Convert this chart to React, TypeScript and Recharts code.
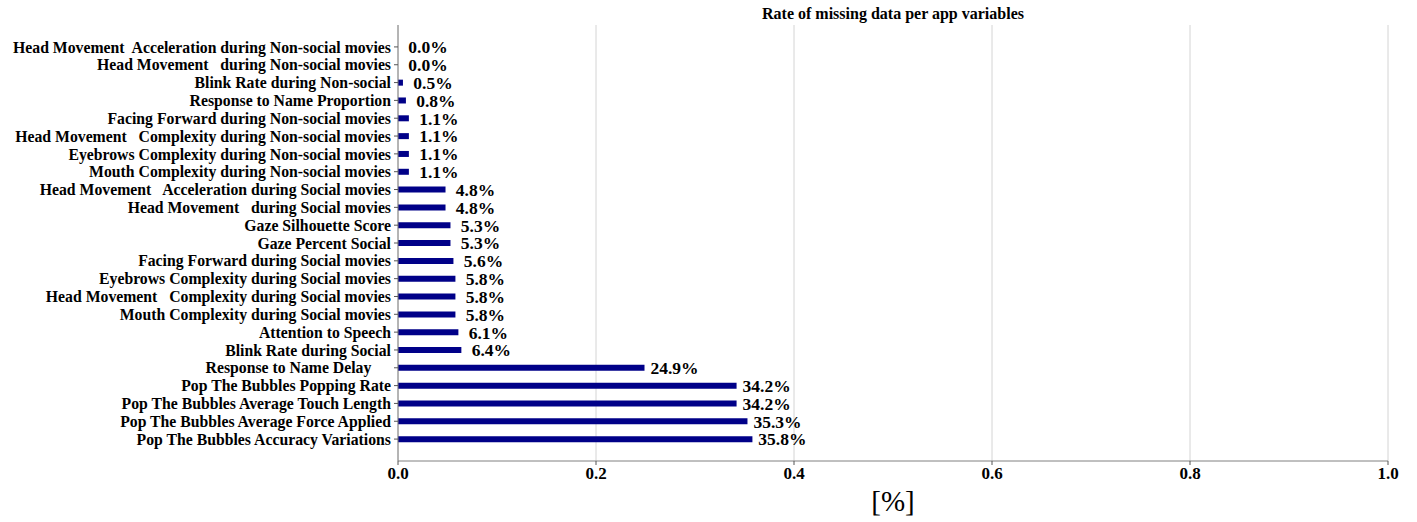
import React from "react";
import {
  BarChart,
  Bar,
  XAxis,
  YAxis,
  CartesianGrid,
  LabelList,
} from "recharts";

const categories: string[] = [
  "Head Movement  Acceleration during Non-social movies",
  "Head Movement   during Non-social movies",
  "Blink Rate during Non-social",
  "Response to Name Proportion",
  "Facing Forward during Non-social movies",
  "Head Movement   Complexity during Non-social movies",
  "Eyebrows Complexity during Non-social movies",
  "Mouth Complexity during Non-social movies",
  "Head Movement   Acceleration during Social movies",
  "Head Movement   during Social movies",
  "Gaze Silhouette Score",
  "Gaze Percent Social",
  "Facing Forward during Social movies",
  "Eyebrows Complexity during Social movies",
  "Head Movement   Complexity during Social movies",
  "Mouth Complexity during Social movies",
  "Attention to Speech",
  "Blink Rate during Social",
  "Response to Name Delay     ",
  "Pop The Bubbles Popping Rate",
  "Pop The Bubbles Average Touch Length",
  "Pop The Bubbles Average Force Applied",
  "Pop The Bubbles Accuracy Variations",
];

const missingRate: number[] = [
  0.0, 0.0, 0.005, 0.008, 0.011, 0.011, 0.011, 0.011, 0.048, 0.048, 0.053,
  0.053, 0.056, 0.058, 0.058, 0.058, 0.061, 0.064, 0.249, 0.342, 0.342, 0.353,
  0.358,
];

const xTicks: number[] = [0, 0.2, 0.4, 0.6, 0.8, 1.0];

const titleText = "Rate of missing data per app variables";
const xLabelText = "[%]";

const data = categories.map((name, i) => ({ name, value: missingRate[i] }));

const FONT = '"Liberation Serif", "Times New Roman", serif';

const YTick = (props: any) => {
  const { x, y, payload } = props;
  return (
    <text
      x={x}
      y={y}
      dy="0.36em"
      textAnchor="end"
      fontFamily={FONT}
      fontWeight="bold"
      fontSize={15.75}
      fill="#000"
      style={{ whiteSpace: "pre" }}
    >
      {payload.value}
    </text>
  );
};

const ValueLabel = (props: any) => {
  const { x, y, width, height, value } = props;
  const v = Number(value);
  const w = v === 0 ? 0 : Number(width);
  return (
    <text
      x={Number(x) + w + 30}
      y={Number(y) + Number(height) / 2}
      dy="0.36em"
      textAnchor="middle"
      fontFamily={FONT}
      fontWeight="bold"
      fontSize={17.5}
      fill="#000"
    >
      {(v * 100).toFixed(1) + "%"}
    </text>
  );
};

export default function App() {
  return (
    <div style={{ position: "absolute", left: 0, top: 0, width: 1417, height: 522, background: "#fff" }}>
      <div
        style={{
          position: "absolute",
          left: 398,
          width: 990,
          top: 4,
          textAlign: "center",
          fontFamily: FONT,
          fontWeight: "bold",
          fontSize: 16,
          lineHeight: "20px",
          color: "#000",
        }}
      >
        {titleText}
      </div>
      <div
        style={{
          position: "absolute",
          left: 398,
          width: 990,
          top: 484,
          textAlign: "center",
          fontFamily: FONT,
          fontSize: 29,
          lineHeight: "34px",
          color: "#000",
        }}
      >
        {xLabelText}
      </div>
      <BarChart
        width={1417}
        height={522}
        data={data}
        layout="vertical"
        margin={{ top: 25, right: 29, bottom: 0, left: 0 }}
      >
        <CartesianGrid horizontal={false} vertical={true} stroke="#d4d4d4" strokeWidth={1} />
        <XAxis
          type="number"
          domain={[0, 1]}
          ticks={xTicks}
          allowDataOverflow
          height={61}
          tickSize={4}
          tickMargin={2}
          axisLine={{ stroke: "#808080" }}
          tickLine={{ stroke: "#555" }}
          tickFormatter={(v: number) => v.toFixed(1)}
          tick={{ fontFamily: FONT, fontWeight: "bold", fontSize: 17, fill: "#000" }}
        />
        <XAxis
          xAxisId="top"
          orientation="top"
          type="number"
          domain={[0, 1]}
          height={0}
          tick={false}
          tickLine={false}
          axisLine={{ stroke: "#808080" }}
        />
        <YAxis
          type="category"
          dataKey="name"
          width={398}
          interval={0}
          padding={{ top: 13, bottom: 13 }}
          tickSize={4}
          tickMargin={3}
          axisLine={{ stroke: "#808080" }}
          tickLine={{ stroke: "#555" }}
          tick={<YTick />}
        />
        <YAxis
          yAxisId="right"
          orientation="right"
          type="category"
          dataKey="name"
          width={0}
          tick={false}
          tickLine={false}
          axisLine={{ stroke: "#808080" }}
        />
        <Bar dataKey="value" fill="#000088" barSize={6} minPointSize={0.01} isAnimationActive={false}>
          <LabelList dataKey="value" content={<ValueLabel />} />
        </Bar>
      </BarChart>
    </div>
  );
}
